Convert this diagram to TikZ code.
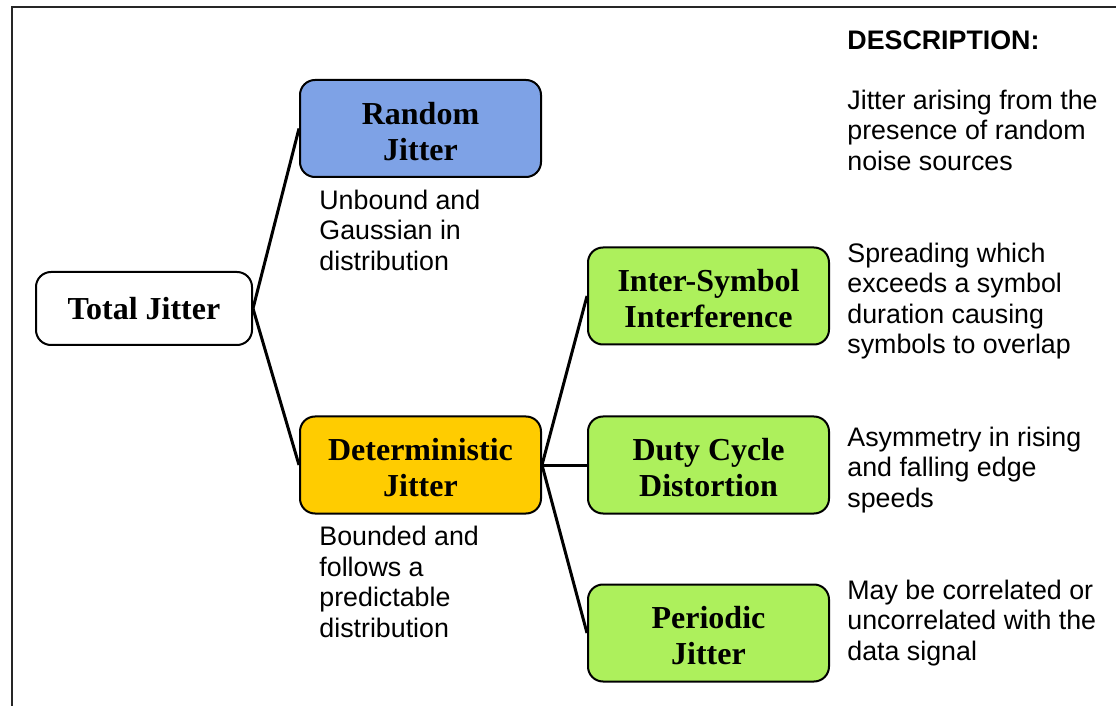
\documentclass[tikz,border=0pt]{standalone}
\usepackage{fontspec}
\setmainfont{Liberation Serif}
\newfontfamily\descfont{Liberation Sans}
\definecolor{jblue}{RGB}{126,162,230}
\definecolor{jyellow}{RGB}{255,204,0}
\definecolor{jgreen}{RGB}{173,240,92}
\newcommand{\boxstrut}{\rule{0pt}{14pt}}
\tikzset{
  jbox/.style={draw=black, line width=1pt, rounded corners=7.5pt, align=center,
    font=\bfseries\fontsize{16}{18}\selectfont, inner sep=0pt,
    minimum width=120.5pt, minimum height=48.5pt},
  desctext/.style={font=\descfont\fontsize{13.4}{15.25}\selectfont, align=left,
    inner sep=0pt, anchor=north west},
  conn/.style={line width=1.5pt, black}
}
\begin{document}
\begin{tikzpicture}[x=0.5pt,y=-0.5pt]
\useasboundingbox (0,0) rectangle (1116,706);
\draw[line width=1pt, black!85] (11.5,706) -- (11.5,7.5) -- (1116,7.5);

\node[jbox, fill=white, minimum width=108pt, minimum height=36.5pt] (tj) at (144,308.5) {Total Jitter};
\node[jbox, fill=jblue] (rj) at (420.5,128.5) {\boxstrut Random\\Jitter};
\node[jbox, fill=jyellow] (dj) at (420.5,465) {\boxstrut Deterministic\\Jitter};
\node[jbox, fill=jgreen] (isi) at (708.5,296) {\boxstrut Inter-Symbol\\Interference};
\node[jbox, fill=jgreen] (dcd) at (708.5,465) {\boxstrut Duty Cycle\\Distortion};
\node[jbox, fill=jgreen] (pj) at (708.5,633) {\boxstrut Periodic\\Jitter};

\draw[conn] (tj.east) -- (rj.west);
\draw[conn] (tj.east) -- (dj.west);
\draw[conn] (dj.east) -- (isi.west);
\draw[conn] (dj.east) -- (dcd.west);
\draw[conn] (dj.east) -- (pj.west);

\node[desctext] (rjtext) at (319,187.6) {\strut Unbound and\\Gaussian in\\distribution};
\node[desctext] (djtext) at (319,523.8) {\strut Bounded and\\follows a\\predictable\\distribution};

\node[font=\descfont\bfseries\fontsize{13.4}{15.25}\selectfont, inner sep=0pt, anchor=base west] (deschead) at (847,49.5) {DESCRIPTION:};
\node[desctext] (d1) at (847,87.6) {\strut Jitter arising from the\\presence of random\\noise sources};
\node[desctext] (d2) at (847,240.6) {\strut Spreading which\\exceeds a symbol\\duration causing\\symbols to overlap};
\node[desctext] (d3) at (847,424.6) {\strut Asymmetry in rising\\and falling edge\\speeds};
\node[desctext] (d4) at (847,577.6) {\strut May be correlated or\\uncorrelated with the\\data signal};
\end{tikzpicture}
\end{document}
